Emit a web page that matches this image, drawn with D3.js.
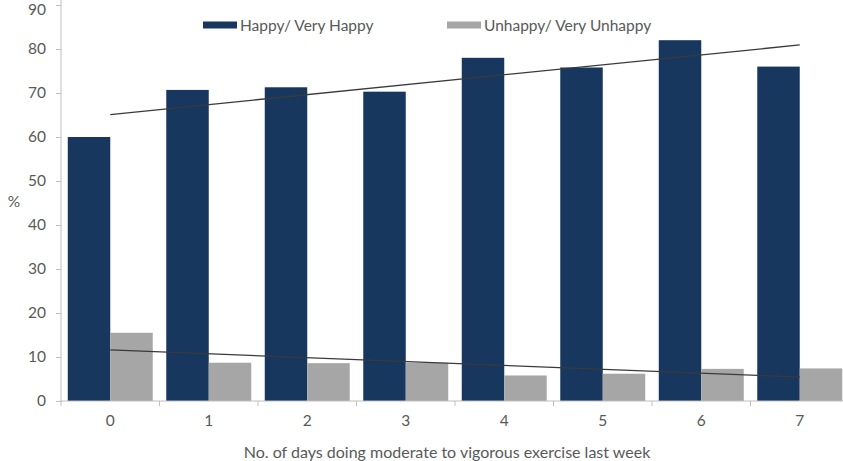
<!DOCTYPE html>
<html>
<head>
<meta charset="utf-8">
<script src="https://cdn.jsdelivr.net/npm/d3@7"></script>
<style>
  html, body { margin: 0; padding: 0; background: #fff; }
  svg { display: block; font-family: Lato, "Open Sans", sans-serif; }
</style>
</head>
<body>
<svg id="chart" width="843" height="461"></svg>
<script>
// Days of moderate-to-vigorous exercise in the past week
const days = ["0", "1", "2", "3", "4", "5", "6", "7"];
// Share of respondents (%) in each happiness group
const happy = [60.0, 70.7, 71.3, 70.3, 78.0, 75.8, 82.0, 76.0];
const unhappy = [15.5, 8.7, 8.6, 8.7, 5.8, 6.2, 7.3, 7.4];
const seriesNames = ["Happy/ Very Happy", "Unhappy/ Very Unhappy"];
const seriesColors = ["#17375e", "#a6a6a6"];
const yTicks = [0, 10, 20, 30, 40, 50, 60, 70, 80, 90];

const svg = d3.select("#chart");
const margin = { left: 61, right: -6, top: 5, bottom: 60 };
const W = 843, H = 461;
const x0 = margin.left, x1 = W - margin.right;
const yBase = H - margin.bottom;

const x = d3.scaleBand().domain(days).range([x0, x1]).padding(0);
const sub = d3.scaleBand().domain([0, 1]).range([0, x.bandwidth()])
  .paddingInner(0).paddingOuter(0.159);
const y = d3.scaleLinear().domain([0, 90]).range([yBase, margin.top]);

const textColor = "#595959";
const axisColor = "#bfbfbf";
const fontSize = "15.5px";

// Bars
const series = [happy, unhappy];
series.forEach((vals, si) => {
  svg.append("g").selectAll("rect").data(vals).join("rect")
    .attr("x", (d, i) => x(days[i]) + sub(si))
    .attr("y", d => y(d))
    .attr("width", sub.bandwidth())
    .attr("height", d => y(0) - y(d))
    .attr("fill", seriesColors[si]);
});

// Linear trend lines (least squares over category index)
function fit(vals) {
  const mx = d3.mean(vals, (d, i) => i);
  const my = d3.mean(vals);
  let sxy = 0, sxx = 0;
  vals.forEach((v, i) => { sxy += (i - mx) * (v - my); sxx += (i - mx) ** 2; });
  const b = sxy / sxx;
  return i => my + b * (i - mx);
}
const line = d3.line().x(d => d[0]).y(d => d[1]);
series.forEach(vals => {
  const f = fit(vals);
  const ends = [0, vals.length - 1].map(i => [x(days[i]) + x.bandwidth() / 2, y(f(i))]);
  svg.append("path").attr("d", line(ends))
    .attr("fill", "none").attr("stroke", "#3a3a3a").attr("stroke-width", 1.3);
});

// Y axis
const yAxis = svg.append("g").attr("transform", `translate(${x0},0)`)
  .call(d3.axisLeft(y).tickValues(yTicks).tickSize(5).tickPadding(10).tickSizeOuter(0));
yAxis.select(".domain").attr("stroke", axisColor).attr("d", `M0,0V${yBase}`);
yAxis.selectAll(".tick line").attr("stroke", axisColor);
yAxis.selectAll(".tick text").attr("fill", textColor).style("font-size", fontSize)
  .style("font-family", "Lato, sans-serif");
// keep the top label inside the drawing area
yAxis.selectAll(".tick text").filter(d => d === 90).attr("dy", "0.58em");

// X axis
const xAxis = svg.append("g").attr("transform", `translate(0,${yBase})`)
  .call(d3.axisBottom(x).tickSize(0).tickPadding(14));
xAxis.select(".domain").attr("stroke", axisColor).attr("d", `M${x0},0H${W}`);
xAxis.selectAll(".tick text").attr("fill", textColor).style("font-size", fontSize)
  .style("font-family", "Lato, sans-serif");
// Separator ticks between categories
svg.append("g").selectAll("line").data(days).join("line")
  .attr("x1", d => x(d)).attr("x2", d => x(d))
  .attr("y1", yBase).attr("y2", yBase + 5)
  .attr("stroke", axisColor);

// Axis titles
svg.append("text").attr("x", 14).attr("y", 207).attr("text-anchor", "middle")
  .attr("fill", textColor).style("font-size", fontSize).text("%");
svg.append("text").attr("x", 447).attr("y", 458).attr("text-anchor", "middle")
  .attr("fill", textColor).style("font-size", "16px")
  .text("No. of days doing moderate to vigorous exercise last week");

// Legend
const legendX = [203, 447];
seriesNames.forEach((name, i) => {
  const g = svg.append("g").attr("transform", `translate(${legendX[i]},25)`);
  g.append("rect").attr("x", 0).attr("y", -3.5).attr("width", 34).attr("height", 7)
    .attr("fill", seriesColors[i]);
  g.append("text").attr("x", 37).attr("y", 5.5).attr("fill", textColor)
    .style("font-size", "15.5px").text(name);
});
</script>
</body>
</html>
